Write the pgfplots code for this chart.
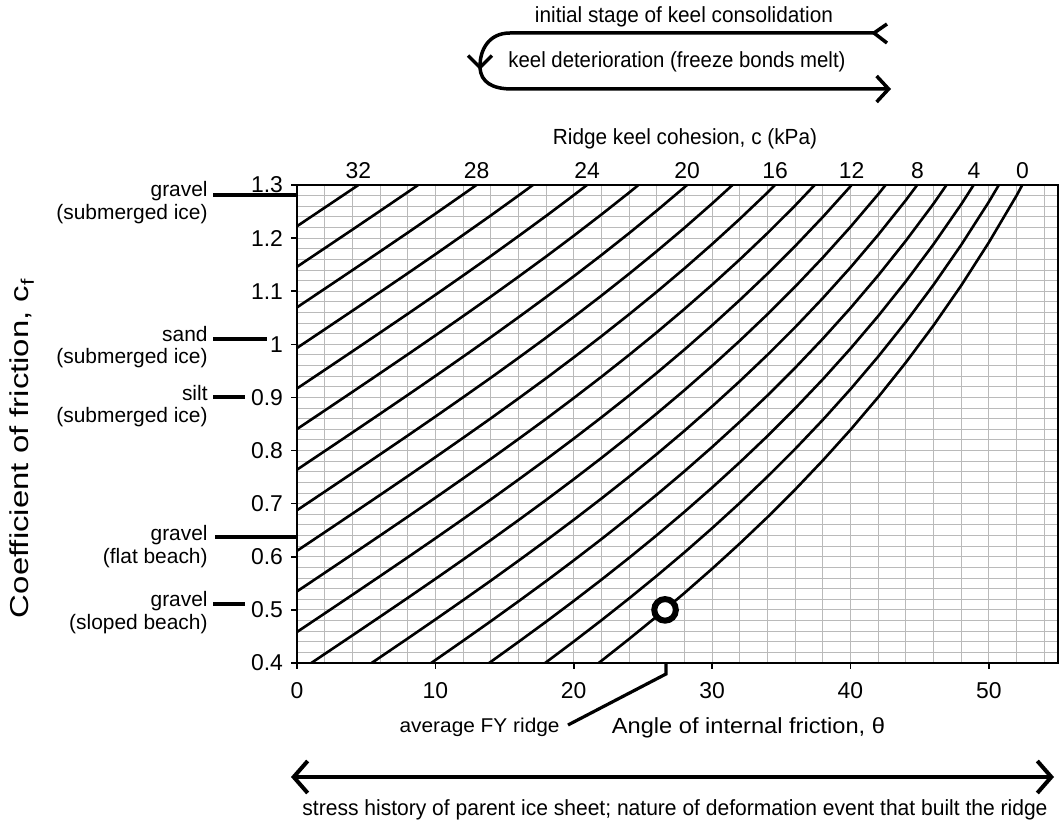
\documentclass[border=0pt]{standalone}
\usepackage{fontspec}
\setmainfont{Liberation Sans}
\usepackage{graphicx}
\usepackage{pgfplots}
\pgfplotsset{compat=1.18}
\usetikzlibrary{arrows.meta}
\newcommand{\fsz}[1]{\fontsize{#1}{#1}\selectfont}
\pgfplotsset{kc/.style={black, solid, no markers, line width=1.3bp}}
\begin{document}
\begin{tikzpicture}[x=0.5bp,y=0.5bp]
\useasboundingbox (0,0) rectangle (1060,823);
\begin{axis}[
  at={(148.5bp,80bp)}, anchor=south west,
  scale only axis, width=380.5bp, height=239bp,
  xmin=0, xmax=55, ymin=0.4, ymax=1.3,
  xtick={0,10,20,30,40,50},
  ytick={0.4,0.5,0.6,0.7,0.8,0.9,1.0,1.1,1.2,1.3},
  yticklabels={0.4,0.5,0.6,0.7,0.8,0.9,1,1.1,1.2,1.3},
  minor xtick={0,2,...,54},
  minor ytick={0.42,0.44,...,1.29},
  grid=both,
  major grid style={black!27, line width=0.45bp},
  minor grid style={black!27, line width=0.45bp},
  tick align=outside, tick pos=left,
  major tick length=3bp, minor tick length=0pt,
  axis line style={line width=0.8bp},
  tick style={black, line width=0.8bp},
  ticklabel style={font=\fsz{11.5}},
  /pgf/number format/assume math mode=true,
  xticklabel style={yshift=-3bp},
  yticklabel style={xshift=-0.5bp},
]
\addplot[kc] coordinates {(20,0.3640)(22,0.4040)(24,0.4452)(26,0.4877)(28,0.5317)(30,0.5774)(32,0.6249)(34,0.6745)(36,0.7265)(38,0.7813)(40,0.8391)(42,0.9004)(44,0.9657)(46,1.0355)(48,1.1106)(50,1.1918)(52,1.2799)(54,1.3764)};
\addplot[kc] coordinates {(16,0.3632)(18,0.4013)(20,0.4404)(22,0.4804)(24,0.5216)(26,0.5641)(28,0.6081)(30,0.6538)(32,0.7013)(34,0.7509)(36,0.8029)(38,0.8577)(40,0.9155)(42,0.9768)(44,1.0421)(46,1.1119)(48,1.1870)(50,1.2682)(52,1.3563)};
\addplot[kc] coordinates {(12,0.3654)(14,0.4021)(16,0.4396)(18,0.4777)(20,0.5168)(22,0.5568)(24,0.5980)(26,0.6405)(28,0.6845)(30,0.7302)(32,0.7777)(34,0.8273)(36,0.8793)(38,0.9341)(40,0.9919)(42,1.0532)(44,1.1185)(46,1.1883)(48,1.2634)(50,1.3446)};
\addplot[kc] coordinates {(8,0.3697)(10,0.4055)(12,0.4418)(14,0.4785)(16,0.5160)(18,0.5541)(20,0.5932)(22,0.6332)(24,0.6744)(26,0.7169)(28,0.7609)(30,0.8066)(32,0.8541)(34,0.9037)(36,0.9557)(38,1.0105)(40,1.0683)(42,1.1296)(44,1.1949)(46,1.2647)(48,1.3398)};
\addplot[kc] coordinates {(4,0.3755)(6,0.4107)(8,0.4461)(10,0.4819)(12,0.5182)(14,0.5549)(16,0.5924)(18,0.6305)(20,0.6696)(22,0.7096)(24,0.7508)(26,0.7933)(28,0.8373)(30,0.8830)(32,0.9305)(34,0.9801)(36,1.0321)(38,1.0869)(40,1.1447)(42,1.2060)(44,1.2713)(46,1.3411)};
\addplot[kc] coordinates {(0,0.3820)(2,0.4169)(4,0.4519)(6,0.4871)(8,0.5225)(10,0.5583)(12,0.5946)(14,0.6313)(16,0.6688)(18,0.7069)(20,0.7460)(22,0.7860)(24,0.8272)(26,0.8697)(28,0.9137)(30,0.9594)(32,1.0069)(34,1.0565)(36,1.1085)(38,1.1633)(40,1.2211)(42,1.2824)(44,1.3477)};
\addplot[kc] coordinates {(0,0.4584)(2,0.4933)(4,0.5283)(6,0.5635)(8,0.5989)(10,0.6347)(12,0.6710)(14,0.7077)(16,0.7452)(18,0.7833)(20,0.8224)(22,0.8624)(24,0.9036)(26,0.9461)(28,0.9901)(30,1.0358)(32,1.0833)(34,1.1329)(36,1.1849)(38,1.2397)(40,1.2975)(42,1.3588)};
\addplot[kc] coordinates {(0,0.5348)(2,0.5697)(4,0.6047)(6,0.6399)(8,0.6753)(10,0.7111)(12,0.7474)(14,0.7841)(16,0.8216)(18,0.8597)(20,0.8988)(22,0.9388)(24,0.9800)(26,1.0225)(28,1.0665)(30,1.1122)(32,1.1597)(34,1.2093)(36,1.2613)(38,1.3161)(40,1.3739)};
\addplot[kc] coordinates {(0,0.6112)(2,0.6461)(4,0.6811)(6,0.7163)(8,0.7517)(10,0.7875)(12,0.8238)(14,0.8605)(16,0.8980)(18,0.9361)(20,0.9752)(22,1.0152)(24,1.0564)(26,1.0989)(28,1.1429)(30,1.1886)(32,1.2361)(34,1.2857)(36,1.3377)};
\addplot[kc] coordinates {(0,0.6876)(2,0.7225)(4,0.7575)(6,0.7927)(8,0.8281)(10,0.8639)(12,0.9002)(14,0.9369)(16,0.9744)(18,1.0125)(20,1.0516)(22,1.0916)(24,1.1328)(26,1.1753)(28,1.2193)(30,1.2650)(32,1.3125)(34,1.3621)};
\addplot[kc] coordinates {(0,0.7640)(2,0.7989)(4,0.8339)(6,0.8691)(8,0.9045)(10,0.9403)(12,0.9766)(14,1.0133)(16,1.0508)(18,1.0889)(20,1.1280)(22,1.1680)(24,1.2092)(26,1.2517)(28,1.2957)(30,1.3414)};
\addplot[kc] coordinates {(0,0.8404)(2,0.8753)(4,0.9103)(6,0.9455)(8,0.9809)(10,1.0167)(12,1.0530)(14,1.0897)(16,1.1272)(18,1.1653)(20,1.2044)(22,1.2444)(24,1.2856)(26,1.3281)};
\addplot[kc] coordinates {(0,0.9168)(2,0.9517)(4,0.9867)(6,1.0219)(8,1.0573)(10,1.0931)(12,1.1294)(14,1.1661)(16,1.2036)(18,1.2417)(20,1.2808)(22,1.3208)};
\addplot[kc] coordinates {(0,0.9932)(2,1.0281)(4,1.0631)(6,1.0983)(8,1.1337)(10,1.1695)(12,1.2058)(14,1.2425)(16,1.2800)(18,1.3181)};
\addplot[kc] coordinates {(0,1.0696)(2,1.1045)(4,1.1395)(6,1.1747)(8,1.2101)(10,1.2459)(12,1.2822)(14,1.3189)};
\addplot[kc] coordinates {(0,1.1460)(2,1.1809)(4,1.2159)(6,1.2511)(8,1.2865)(10,1.3223)};
\addplot[kc] coordinates {(0,1.2224)(2,1.2573)(4,1.2923)(6,1.3275)};
% average FY ridge
\addplot[only marks, mark=*, mark size=5.4bp, mark options={draw=black, fill=white, line width=3bp}] coordinates {(26.6,0.5)};
% positions of cohesion labels on the top edge
\coordinate (k32) at (axis cs:4.44,1.3);
\coordinate (k28) at (axis cs:12.98,1.3);
\coordinate (k24) at (axis cs:20.96,1.3);
\coordinate (k20) at (axis cs:28.19,1.3);
\coordinate (k16) at (axis cs:34.56,1.3);
\coordinate (k12) at (axis cs:40.09,1.3);
\coordinate (k8) at (axis cs:44.84,1.3);
\coordinate (k4) at (axis cs:48.92,1.3);
\coordinate (k0) at (axis cs:52.43,1.3);
\end{axis}
% cohesion labels
\foreach \c in {32,28,24,20,16,12,8,4,0}{
  \node[anchor=south, inner sep=0pt, font=\fsz{11.5}, yshift=3bp] at (k\c) {\c};
}
\node at (685,684) {\resizebox{132bp}{\height}{\fsz{11}Ridge keel cohesion, c (kPa)}};
% top arrows
\node at (684,806) {\resizebox{149bp}{\height}{\fsz{11}initial stage of keel consolidation}};
\node at (677,761) {\resizebox{168.5bp}{\height}{\fsz{11}keel deterioration (freeze bonds melt)}};
\draw[line width=1.75bp] (887,799) -- (874,790) -- (887,780);
\draw[line width=1.75bp, -{Straight Barb[length=6bp,width=12bp]}] (874,790) -- (510,790) .. controls (488,790) and (480,772) .. (480,753);
\draw[line width=1.75bp, -{Straight Barb[length=6bp,width=13bp]}] (480,755) .. controls (481,741) and (492,734) .. (512,734) -- (891,734);
% y label
\node[rotate=90] at (22,375) {\resizebox{170bp}{\height}{\fsz{13}Coefficient of friction, c\textsubscript{f}}};
% left annotations
\begin{scope}[every node/.style={anchor=base east, inner sep=0pt, font=\fsz{10.5}}]
\node at (208,626) {gravel};
\node at (208,603) {(submerged ice)};
\node at (208,481) {sand};
\node at (208,459) {(submerged ice)};
\node at (208,422) {silt};
\node at (208,400) {(submerged ice)};
\node at (208,282) {gravel};
\node at (208,259) {(flat beach)};
\node at (208,216) {gravel};
\node at (208,193) {(sloped beach)};
\end{scope}
\draw[line width=1.75bp] (213,628) -- (297,628);
\draw[line width=1.75bp] (213,484) -- (267,484);
\draw[line width=1.75bp] (213,426) -- (245,426);
\draw[line width=1.75bp] (215,286) -- (297,286);
\draw[line width=1.75bp] (213,219) -- (245,219);
% x label and FY ridge label
\node at (748.5,95) {\resizebox{136.5bp}{\height}{\fsz{11}Angle of internal friction, θ}};
\node[anchor=east, inner sep=0pt] at (560,96) {\resizebox{80bp}{\height}{\fsz{10}average FY ridge}};
\draw[line width=1.6bp] (666,160) -- (666,149) -- (568,98);
% bottom arrow
\draw[line width=2bp, {Straight Barb[length=7bp,width=16bp]}-{Straight Barb[length=7bp,width=16bp]}] (291,46) -- (1054,46);
\node at (675,13) {\resizebox{372.5bp}{\height}{\fsz{11}stress history of parent ice sheet; nature of deformation event that built the ridge}};
\end{tikzpicture}
\end{document}
